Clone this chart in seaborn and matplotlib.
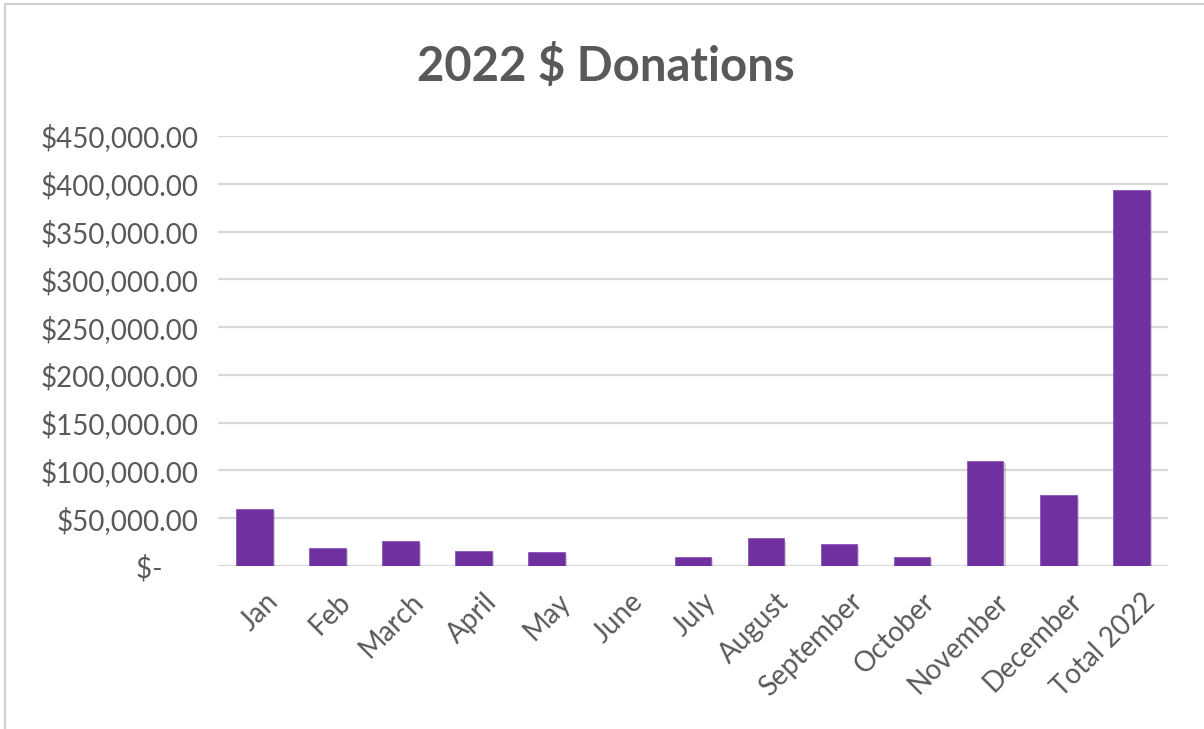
import matplotlib
matplotlib.use("Agg")
import matplotlib.pyplot as plt
import matplotlib.patheffects as pe
import matplotlib.transforms as mtransforms
from matplotlib.lines import Line2D
import seaborn as sns

# data
months = ["Jan", "Feb", "March", "April", "May", "June", "July", "August",
          "September", "October", "November", "December", "Total 2022"]
donations = [59300, 18400, 26200, 15700, 14700, 0, 9900, 28800,
             22500, 9900, 109900, 74700, 393500]
y_ticks = [0, 50000, 100000, 150000, 200000, 250000, 300000, 350000, 400000, 450000]
y_labels = ["$-     ", "$50,000.00", "$100,000.00", "$150,000.00", "$200,000.00",
            "$250,000.00", "$300,000.00", "$350,000.00", "$400,000.00", "$450,000.00"]

sns.set_style("white")
plt.rcParams['font.family'] = ['Lato', 'DejaVu Sans']

text_col = "#595959"
grid_col = "#D9D9D9"
bar_col = "#7030A0"

fig = plt.figure(figsize=(12.04, 7.29), dpi=100)
ax = fig.add_axes([0.181, 0.2236, 0.789, 0.5898])

sns.barplot(x=months, y=donations, color=bar_col, saturation=1, width=0.5,
            ax=ax, zorder=3)
for p in ax.patches:
    p.set_path_effects([pe.SimplePatchShadow(offset=(1.5, -1.5), alpha=0.2),
                        pe.Normal()])
    p.set_edgecolor("#8a55b5")
    p.set_linewidth(0.6)

ax.set_ylim(0, 450000)
ax.set_xlim(-0.5, len(months) - 0.5)
ax.set_yticks(y_ticks)
ax.set_yticklabels(y_labels, fontsize=20, color=text_col)
ax.yaxis.grid(True, color=grid_col, linewidth=1.6, zorder=0)
ax.set_axisbelow(True)
ax.axhline(0, color=grid_col, linewidth=2.2, zorder=2)
for s in ax.spines.values():
    s.set_visible(False)
ax.tick_params(axis="both", length=0)
ax.tick_params(axis="y", pad=14)
ax.set_xlabel("")
ax.set_ylabel("")
ax.tick_params(axis="x", pad=16)
shift = mtransforms.ScaledTranslation(10 / 100, 0, fig.dpi_scale_trans)
for lab in ax.get_xticklabels():
    lab.set_rotation(45)
    lab.set_ha("right")
    lab.set_rotation_mode("anchor")
    lab.set_fontsize(20)
    lab.set_color(text_col)
    lab.set_transform(lab.get_transform() + shift)

fig.text(0.503, 0.909, "2022 $ Donations", ha="center", va="center",
         fontsize=34, fontweight="bold", color=text_col)

# light sheet border around the chart
fig.add_artist(Line2D([0.004, 1.0], [0.994, 0.994], color="#D0D0D0", lw=1.5,
                      transform=fig.transFigure))
fig.add_artist(Line2D([0.004, 0.004], [0.0, 0.994], color="#D0D0D0", lw=1.5,
                      transform=fig.transFigure))

fig.savefig("out.png", dpi=100, facecolor="white")
